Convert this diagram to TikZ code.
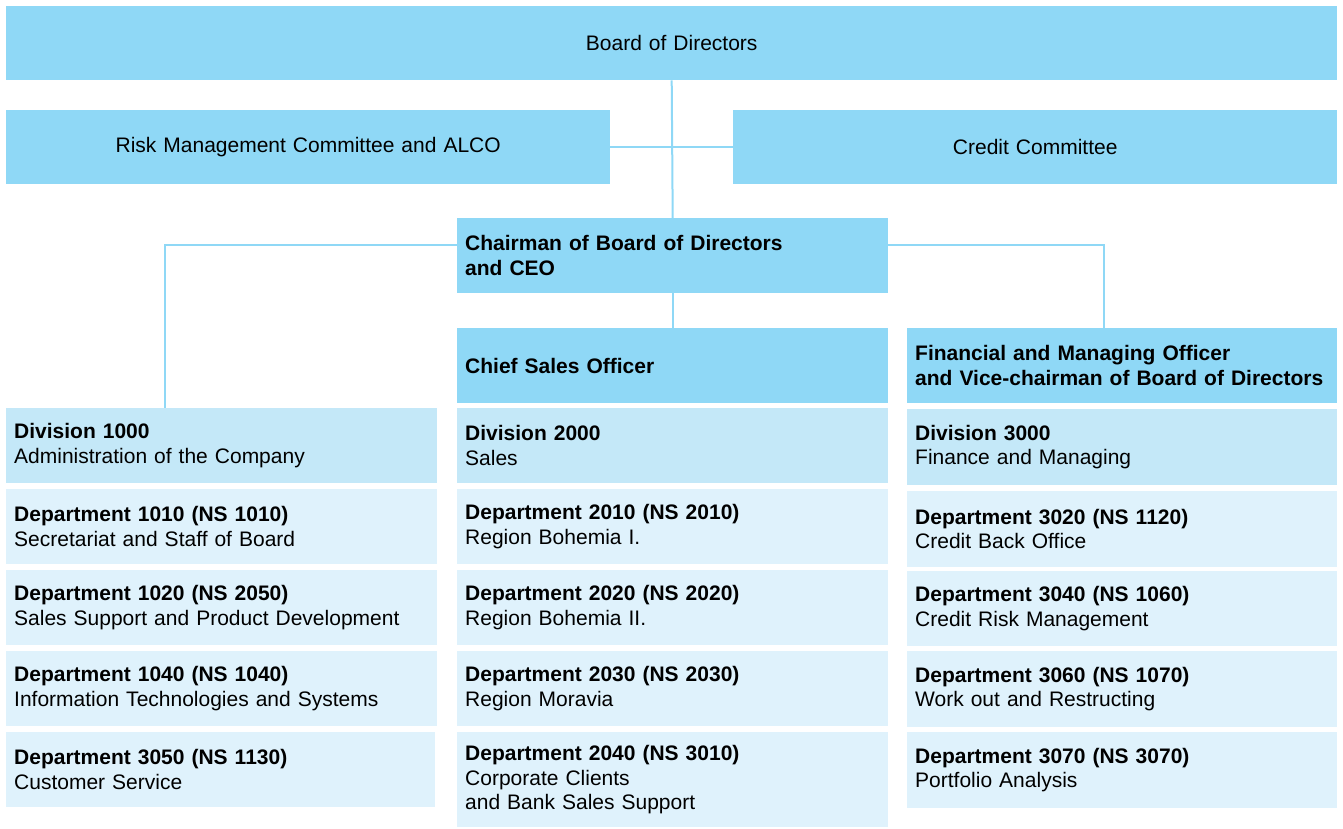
\documentclass[tikz,border=0pt]{standalone}
\usepackage{fontspec}
\setmainfont{Liberation Sans}
\usepackage{tikz}
\usetikzlibrary{positioning}
\definecolor{topblue}{HTML}{8FD8F6}
\definecolor{divblue}{HTML}{C4E8F8}
\definecolor{depblue}{HTML}{DFF2FC}

\begin{document}
\begin{tikzpicture}[x=1pt, y=-1pt, every node/.style={font=\fontsize{21}{24.5}\selectfont},
		box/.style={rectangle, anchor=north west, inner xsep=8pt, inner ysep=0pt, align=left},
		headbox/.style={box, fill=topblue, font=\fontsize{21}{24.5}\selectfont\bfseries},
		centerbox/.style={box, fill=topblue, align=center},
		divbox/.style={box, fill=divblue, text width=415pt, minimum height=75pt},
		depbox/.style={box, fill=depblue, text width=415pt, minimum height=75pt},
		link/.style={draw=topblue, line width=2pt}]
		\useasboundingbox (0,0) rectangle (1343,828);
		% top level
		\node[centerbox, text width=1315pt, minimum height=74pt] (board) at (6, 6) {Board of Directors};
		\node[centerbox, text width=588pt, minimum height=74pt] (risk) at (6, 110) {Risk Management Committee and ALCO};
		\node[centerbox, text width=588pt, minimum height=74pt] (credit) at (733, 110) {Credit Committee};
		\node[headbox, text width=415pt, minimum height=75pt] (chair) at (457, 218) {Chairman of Board of Directors\\and CEO};
		\node[headbox, text width=415pt, minimum height=75pt] (cso) at (457, 328) {Chief Sales Officer};
		\node[headbox, text width=414pt, minimum height=75pt] (fmo) at (907, 328) {Financial and Managing Officer\\and Vice-chairman of Board of Directors};
		% left column
		\node[divbox] (d1000) at (6, 408) {\textbf{Division 1000}\\Administration of the Company};
		\node[depbox] (d1010) at (6, 489) {\textbf{Department 1010 (NS 1010)}\\Secretariat and Staff of Board};
		\node[depbox] (d1020) at (6, 570) {\textbf{Department 1020 (NS 2050)}\\Sales Support and Product Development};
		\node[depbox] (d1040) at (6, 651) {\textbf{Department 1040 (NS 1040)}\\Information Technologies and Systems};
		\node[depbox, text width=413pt] (d3050) at (6, 732) {\textbf{Department 3050 (NS 1130)}\\Customer Service};
		% middle column
		\node[divbox] (d2000) at (457, 408) {\textbf{Division 2000}\\Sales};
		\node[depbox] (d2010) at (457, 489) {\textbf{Department 2010 (NS 2010)}\\Region Bohemia I.};
		\node[depbox] (d2020) at (457, 570) {\textbf{Department 2020 (NS 2020)}\\Region Bohemia II.};
		\node[depbox] (d2030) at (457, 651) {\textbf{Department 2030 (NS 2030)}\\Region Moravia};
		\node[depbox, minimum height=95pt] (d2040) at (457, 732) {\textbf{Department 2040 (NS 3010)}\\Corporate Clients\\and Bank Sales Support};
		% right column
		\node[divbox, text width=414pt, minimum height=76pt] (d3000) at (907, 409) {\textbf{Division 3000}\\Finance and Managing};
		\node[depbox, text width=414pt, minimum height=76pt] (d3020) at (907, 491) {\textbf{Department 3020 (NS 1120)}\\Credit Back Office};
		\node[depbox, text width=414pt] (d3040) at (907, 571) {\textbf{Department 3040 (NS 1060)}\\Credit Risk Management};
		\node[depbox, text width=414pt, minimum height=76pt] (d3060) at (907, 651) {\textbf{Department 3060 (NS 1070)}\\Work out and Restructing};
		\node[depbox, text width=414pt, minimum height=76pt] (d3070) at (907, 732) {\textbf{Department 3070 (NS 3070)}\\Portfolio Analysis};
		% connectors
		\draw[link] (board.south) -- (chair.north);
		\draw[link] (risk.east) -- (credit.west);
		\draw[link] ([yshift=10.5pt]chair.west) -| ([xshift=-56.5pt]d1000.north);
		\draw[link] ([yshift=10.5pt]chair.east) -| ([xshift=-18pt]fmo.north);
		\draw[link] (chair.south) -- (cso.north);
	\end{tikzpicture}
\end{document}
